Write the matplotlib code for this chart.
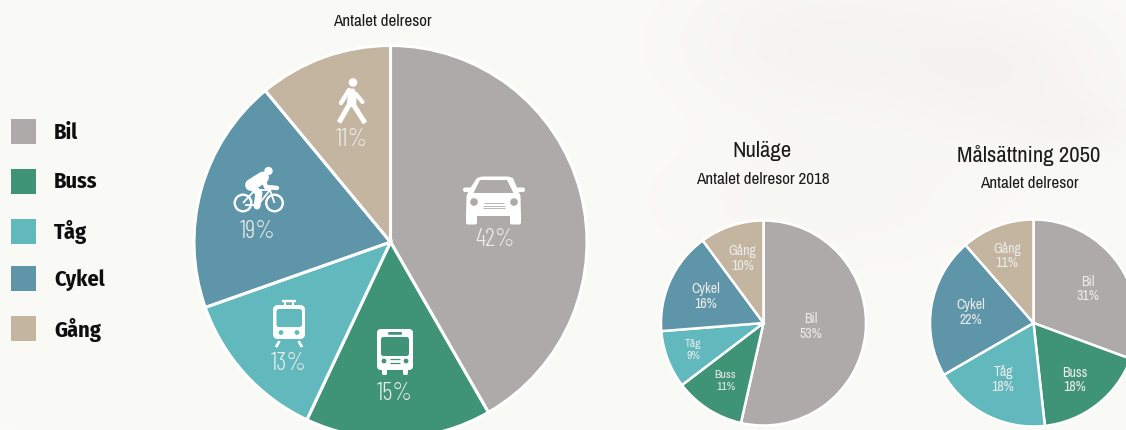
import numpy as np
import matplotlib
matplotlib.use("Agg")
import matplotlib.pyplot as plt
from matplotlib.patches import Circle, FancyBboxPatch, Polygon, Rectangle

categories = ["Bil", "Buss", "Tåg", "Cykel", "Gång"]
colors = ["#AEAAA9", "#3F9478", "#61B8BD", "#5E95A9", "#C3B59F"]
main_values = [41.7, 15.3, 12.6, 19.4, 11.0]
nulage_values = [53, 11, 9, 16, 10]
mal_values = [30.6, 17.6, 18.4, 21.9, 11.4]

FONT = ["Archivo Narrow", "PT Sans Narrow", "DejaVu Sans"]
LIGHT = ["Barlow Condensed", "Archivo Narrow", "DejaVu Sans"]
BOLD = ["Fira Sans Condensed", "Archivo Narrow", "DejaVu Sans"]
W, H = 1126, 430
BG = "#FAFAF7"
LBL = "#EDECEA"

fig = plt.figure(figsize=(W / 100, H / 100), dpi=100, facecolor=BG)
ax = fig.add_axes([0, 0, 1, 1])


def Y(y):
    return H - y


# Soft photographic smudge behind the charts
xx, yy = np.meshgrid(np.arange(0, W, 4), np.arange(0, H, 4))
shade = np.zeros_like(xx, dtype=float)
for cx, cy, sx, sy, a in [(820, 40, 130, 70, 0.8), (1000, 70, 110, 70, 0.8),
                          (820, 200, 170, 70, 0.35), (1080, 125, 60, 30, 0.5)]:
    shade += a * np.exp(-((xx - cx) / sx) ** 2 - ((yy - cy) / sy) ** 2)
shade = np.clip(shade, 0, 1)
rgb = np.zeros(shade.shape + (3,))
base = np.array([250, 250, 247]) / 255
dark = np.array([243, 242, 239]) / 255
for i in range(3):
    rgb[..., i] = base[i] + (dark[i] - base[i]) * shade
ax.imshow(rgb, extent=(0, W, 0, H), origin="upper", zorder=0, aspect="auto",
          interpolation="bilinear")


def pie(values, cx, cy, r, lw):
    ax.pie(values, colors=colors, center=(cx, Y(cy)), radius=r, startangle=90,
           counterclock=False, normalize=True, frame=True,
           wedgeprops=dict(edgecolor="white", linewidth=lw, zorder=2))


pie(main_values, 390.5, 242, 196.5, 2.2)
pie(nulage_values, 763.5, 323, 102.5, 1.8)
pie(mal_values, 1033.5, 323, 103.5, 1.8)

ax.set_xlim(0, W)
ax.set_ylim(0, H)
ax.set_aspect("auto")
ax.axis("off")


def T(x, y, s, size, color="#1A1A1A", fam=FONT, **kw):
    ax.text(x, Y(y), s, fontsize=size, color=color, ha=kw.pop("ha", "center"),
            va="center", family=fam, zorder=5, **kw)


# Legend
legend_y = [132.5, 182, 232, 280, 329.5]
for name, col, y, sy in zip(categories, colors, legend_y, [131.5, 181, 231, 278.5, 328.5]):
    ax.add_patch(Rectangle((11, Y(sy) - 12.5), 25, 25, fc=col, ec="none", zorder=3))
    T(54, y, name, 16, color="#0E0E0E", fam=BOLD, ha="left", fontweight="bold")

# Titles
T(382, 22, "Antalet delresor", 12.3)
T(762, 151, "Nuläge", 16.4)
T(762.5, 179, "Antalet delresor 2018", 12.3)
T(1029, 155, "Målsättning 2050", 16.4)
T(1029, 184, "Antalet delresor", 12.3)

# Main percentage labels
main_pos = [(495, 239), (395, 393), (289, 363), (258, 232), (352, 140)]
for v, (x, y) in zip(main_values, main_pos):
    T(x, y, f"{round(v)}%", 18, color=LBL, fam=LIGHT, fontweight=300)

# Small pie labels
nu_pos = [(811, 319, 334, 10), (725.5, 375, 387, 8.4), (693.5, 344, 356, 8.4),
          (706, 289, 304, 10), (742.5, 251, 266, 10)]
mal_pos = [(1088, 282, 296, 10), (1075, 373, 387, 10), (1003, 372, 387, 10),
           (971, 305, 320, 10), (1007, 249, 263, 10)]
for vals, pos in [(nulage_values, nu_pos), (mal_values, mal_pos)]:
    for name, v, (x, y1, y2, fs) in zip(categories, vals, pos):
        T(x, y1, name, fs, color=LBL)
        T(x, y2, f"{round(v)}%", fs, color=LBL)

ICON = "white"
Z = 4


def rrect(x0, y0, x1, y1, rad, fc=ICON, z=Z):
    ax.add_patch(FancyBboxPatch((x0 + rad, Y(y1) + rad), x1 - x0 - 2 * rad, y1 - y0 - 2 * rad,
                                boxstyle=f"round,pad={rad},rounding_size={rad}",
                                fc=fc, ec="none", zorder=z))


def circ(x, y, r, fc=ICON, z=Z):
    ax.add_patch(Circle((x, Y(y)), r, fc=fc, ec="none", zorder=z))


def ring(x, y, r, lw):
    ax.add_patch(Circle((x, Y(y)), r, fc="none", ec=ICON, lw=lw, zorder=Z))


def poly(pts, fc=ICON, z=Z):
    ax.add_patch(Polygon([(x, Y(y)) for x, y in pts], closed=True, fc=fc, ec="none", zorder=z))


def line(pts, lw, col=ICON, z=Z, cap="butt"):
    ax.plot([p[0] for p in pts], [Y(p[1]) for p in pts], color=col, lw=lw, zorder=z,
            solid_capstyle=cap, solid_joinstyle="round")


# Car
car = colors[0]
poly([(477, 178), (482, 176.5), (508, 176.5), (513, 178), (518, 190), (520.5, 196), (521, 216),
      (466, 216), (466.5, 196), (469, 190)])
rrect(466, 212, 477, 224.5, 2)
rrect(510, 212, 521, 224.5, 2)
rrect(463, 187.5, 472, 192, 2)
rrect(515, 187.5, 525, 192, 2)
poly([(480, 180), (507, 180), (513.5, 193), (473.5, 193)], fc=car, z=Z + 1)
circ(474, 202, 3.8, fc=car, z=Z + 1)
circ(514, 202, 3.8, fc=car, z=Z + 1)
for gy, gx in [(203, 10), (205.5, 11), (208, 11)]:
    line([(494 - gx, gy), (494 + gx, gy)], 0.6, col=car, z=Z + 1)

# Bus
bus = colors[1]
rrect(377, 329, 413, 370, 4)
rrect(381, 337, 409, 356, 2.5, fc=bus, z=Z + 1)
rrect(388, 332, 402, 334.8, 1.2, fc=bus, z=Z + 1)
circ(384, 361, 2.4, fc=bus, z=Z + 1)
circ(406, 361, 2.4, fc=bus, z=Z + 1)
line([(390, 359.3), (400, 359.3)], 0.9, col=bus, z=Z + 1)
line([(390, 363), (400, 363)], 0.9, col=bus, z=Z + 1)
rrect(382, 368, 387, 375, 1.5)
rrect(403, 368, 408, 375, 1.5)

# Tram
tram = colors[2]
rrect(273, 305, 305, 339, 5)
rrect(276.5, 309, 302, 327, 2.5, fc=tram, z=Z + 1)
circ(281, 332.5, 2.4, fc=tram, z=Z + 1)
circ(297, 332.5, 2.4, fc=tram, z=Z + 1)
line([(282, 300.8), (296, 300.8)], 1.7)
line([(285, 301), (285, 305)], 1.5)
line([(293, 301), (293, 305)], 1.5)
line([(279.5, 341), (276, 347)], 2.0)
line([(298.5, 341), (302, 347)], 2.0)

# Cyclist
ring(243, 203, 8.3, 1.7)
ring(274.5, 203, 8.3, 1.7)
circ(268.5, 171, 4.2)
line([(243, 203), (255, 190), (270, 190), (274.5, 203)], 1.3)
line([(245, 205), (258, 205), (270, 190)], 1.3)
line([(255, 190), (258, 205)], 1.3)
line([(268, 186), (270, 190)], 1.3)
line([(251, 185), (263, 177.5)], 8.5, cap="round")
line([(263, 178), (266, 187), (277, 188)], 3.2, cap="round")
line([(251, 186), (259, 193), (257, 206)], 5.0, cap="round")

# Walker
circ(353, 82.5, 4.3)
poly([(348, 89), (354, 88.5), (357, 94), (356, 106), (351, 107), (347, 104)])
line([(349, 90), (341, 103)], 3.2, cap="round")
line([(356, 94), (362.5, 102)], 3.0, cap="round")
line([(349, 105), (339, 122.5)], 3.6)
line([(353, 104), (365, 123)], 3.6)

fig.savefig("out.png", dpi=100, facecolor=BG)
